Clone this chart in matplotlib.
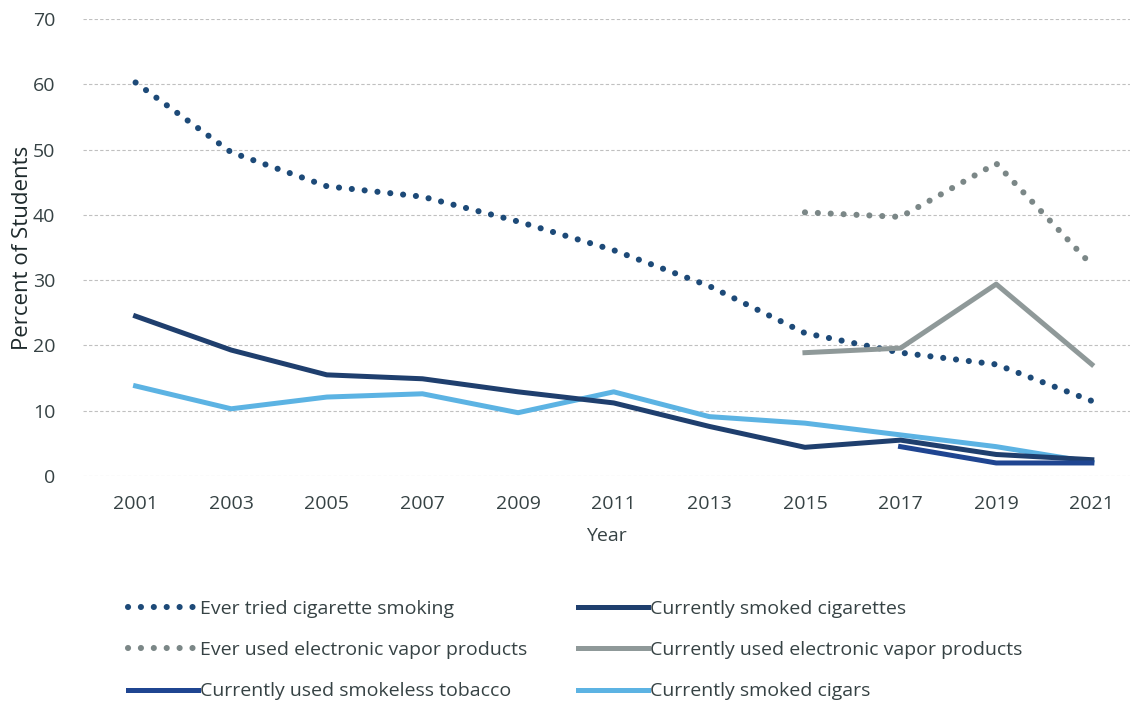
import matplotlib.pyplot as plt
from matplotlib import font_manager

# YRBS tobacco use trends, percent of students
years = [2001, 2003, 2005, 2007, 2009, 2011, 2013, 2015, 2017, 2019, 2021]
evp_years = [2015, 2017, 2019, 2021]
smokeless_years = [2017, 2019, 2021]

ever_tried_cig = [60.3, 49.6, 44.4, 42.8, 39.0, 34.6, 29.1, 21.9, 18.9, 17.1, 11.5]
current_cig = [24.5, 19.3, 15.5, 14.9, 12.9, 11.2, 7.6, 4.4, 5.5, 3.3, 2.5]
ever_evp = [40.4, 39.7, 47.9, 32.3]
current_evp = [18.9, 19.6, 29.4, 17.1]
smokeless = [4.5, 2.0, 2.0]
cigars = [13.8, 10.3, 12.1, 12.6, 9.7, 12.9, 9.1, 8.1, 6.3, 4.5, 2.1]

families = [f.name for f in font_manager.fontManager.ttflist]
base_font = 'Liberation Sans Narrow' if 'Liberation Sans Narrow' in families else 'Open Sans'
plt.rcParams['font.family'] = [base_font, 'DejaVu Sans']

text_col = '#364244'
c_dark = '#1d4a78'
c_navy = '#1f3f6e'
c_gray_dot = '#7b8787'
c_gray = '#8f9999'
c_blue = '#1f4591'
c_light = '#5cb3e3'

fig = plt.figure(figsize=(11.32, 7.05), dpi=100)
ax = fig.add_axes([0.0733, 0.3248, 0.925, 0.648])

dots = (0, (0.01, 2.1))
lw_dot = 4.4
lw = 3.6

h1, = ax.plot(years, ever_tried_cig, color=c_dark, lw=lw_dot, linestyle=dots,
              dash_capstyle='round', label='Ever tried cigarette smoking')
h3, = ax.plot(evp_years, ever_evp, color=c_gray_dot, lw=lw_dot, linestyle=dots,
              dash_capstyle='round', label='Ever used electronic vapor products')
h4, = ax.plot(evp_years, current_evp, color=c_gray, lw=lw,
              solid_joinstyle='round', label='Currently used electronic vapor products')
h6, = ax.plot(years, cigars, color=c_light, lw=lw,
              solid_joinstyle='round', label='Currently smoked cigars')
h2, = ax.plot(years, current_cig, color=c_navy, lw=lw,
              solid_joinstyle='round', label='Currently smoked cigarettes')
h5, = ax.plot(smokeless_years, smokeless, color=c_blue, lw=lw,
              solid_joinstyle='round', label='Currently used smokeless tobacco')

ax.set_xlim(1999.9, 2021.8)
ax.set_ylim(0, 70)
ax.set_xticks(years)
ax.set_yticks(range(0, 71, 10))
ax.tick_params(length=0, labelsize=14, colors=text_col, pad=14)
ax.tick_params(axis='y', pad=20)
ax.grid(axis='y', color='#c0c0c0', linestyle=(0, (3, 2)), linewidth=0.8)
ax.set_axisbelow(True)
for s in ax.spines.values():
    s.set_visible(False)

ax.set_xlabel('Year', fontsize=14, color=text_col, labelpad=10)
ax.set_ylabel('Percent of Students', fontsize=16, color='#1e2a2c', labelpad=0)

fig.legend(handles=[h1, h3, h5, h2, h4, h6], ncol=2, loc='center',
           bbox_to_anchor=(0.508, 0.078), frameon=False, fontsize=14,
           handlelength=3.6, handletextpad=0.1, columnspacing=2.6,
           labelspacing=1.2, labelcolor=text_col)

fig.savefig('out.png', dpi=100)
